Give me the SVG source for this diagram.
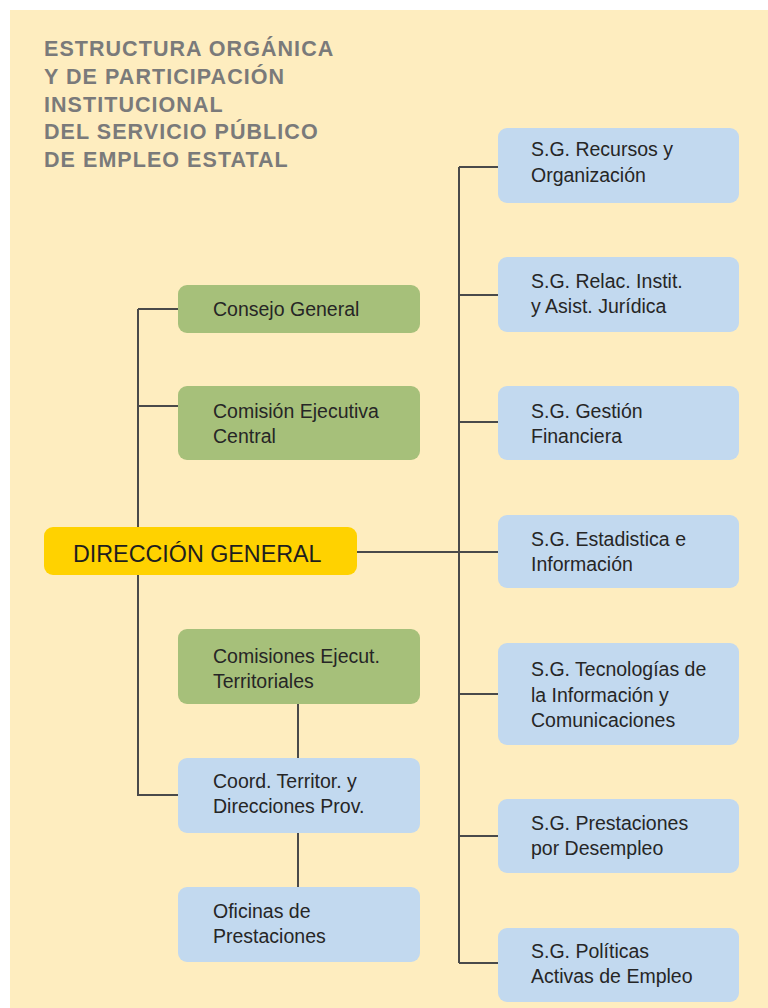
<svg xmlns="http://www.w3.org/2000/svg" width="768" height="1008" viewBox="0 0 768 1008">
<style>
.bg{fill:#FEEDBF}
.title{font-family:"Liberation Sans",Arial,sans-serif;font-weight:bold;font-size:21.5px;fill:#7A7A7A;letter-spacing:1.05px}
.lbl{font-family:"Liberation Sans",Arial,sans-serif;font-size:19.5px;fill:#262626}
.dg{font-family:"Liberation Sans",Arial,sans-serif;font-size:23.3px;fill:#1E1E1E}
.green{fill:#A6C07A}
.blue{fill:#C2D9EF}
.yellow{fill:#FFD200}
.conn{stroke:#4A4A4A;stroke-width:2;fill:none}
</style>
<rect x="0" y="0" width="768" height="1008" fill="#FFFFFF"/>
<rect class="bg" x="10" y="10" width="758" height="998"/>
<g id="title" class="title">
<text x="44" y="56">ESTRUCTURA ORGÁNICA</text>
<text x="44" y="84">Y DE PARTICIPACIÓN</text>
<text x="44" y="112">INSTITUCIONAL</text>
<text x="44" y="139">DEL SERVICIO PÚBLICO</text>
<text x="44" y="167">DE EMPLEO ESTATAL</text>
</g>
<g id="connectors" class="conn">
<path d="M138 309 V795 H178"/>
<path d="M138 309 H178"/>
<path d="M138 406 H178"/>
<path d="M298 704 V758"/>
<path d="M298 833 V887"/>
<path d="M357 552 H498"/>
<path d="M459 167 V963"/>
<path d="M459 167 H498"/>
<path d="M459 295 H498"/>
<path d="M459 422 H498"/>
<path d="M459 694 H498"/>
<path d="M459 836 H498"/>
<path d="M459 963 H498"/>
</g>
<g id="direccion-general">
<rect class="yellow" x="44" y="527" width="313" height="48" rx="9"/>
<text class="dg" x="73" y="562">DIRECCIÓN GENERAL</text>
</g>
<g id="consejo-general">
<rect class="green" x="178" y="285" width="242" height="48" rx="9"/>
<text class="lbl" x="213" y="316">Consejo General</text>
</g>
<g id="comision-ejecutiva-central">
<rect class="green" x="178" y="386" width="242" height="74" rx="9"/>
<text class="lbl" x="213" y="418">Comisión Ejecutiva</text>
<text class="lbl" x="213" y="443">Central</text>
</g>
<g id="comisiones-ejecut-territoriales">
<rect class="green" x="178" y="629" width="242" height="75" rx="9"/>
<text class="lbl" x="213" y="663">Comisiones Ejecut.</text>
<text class="lbl" x="213" y="688">Territoriales</text>
</g>
<g id="coord-territor">
<rect class="blue" x="178" y="758" width="242" height="75" rx="9"/>
<text class="lbl" x="213" y="788">Coord. Territor. y</text>
<text class="lbl" x="213" y="813">Direcciones Prov.</text>
</g>
<g id="oficinas-prestaciones">
<rect class="blue" x="178" y="887" width="242" height="75" rx="9"/>
<text class="lbl" x="213" y="918">Oficinas de</text>
<text class="lbl" x="213" y="943">Prestaciones</text>
</g>
<g id="sg-recursos">
<rect class="blue" x="498" y="128" width="241" height="75" rx="9"/>
<text class="lbl" x="531" y="156">S.G. Recursos y</text>
<text class="lbl" x="531" y="182">Organización</text>
</g>
<g id="sg-relac">
<rect class="blue" x="498" y="257" width="241" height="75" rx="9"/>
<text class="lbl" x="531" y="288">S.G. Relac. Instit.</text>
<text class="lbl" x="531" y="313">y Asist. Jurídica</text>
</g>
<g id="sg-gestion">
<rect class="blue" x="498" y="386" width="241" height="74" rx="9"/>
<text class="lbl" x="531" y="418">S.G. Gestión</text>
<text class="lbl" x="531" y="443">Financiera</text>
</g>
<g id="sg-estadistica">
<rect class="blue" x="498" y="515" width="241" height="73" rx="9"/>
<text class="lbl" x="531" y="546">S.G. Estadistica e</text>
<text class="lbl" x="531" y="571">Información</text>
</g>
<g id="sg-tecnologias">
<rect class="blue" x="498" y="643" width="241" height="102" rx="9"/>
<text class="lbl" x="531" y="676">S.G. Tecnologías de</text>
<text class="lbl" x="531" y="702">la Información y</text>
<text class="lbl" x="531" y="727">Comunicaciones</text>
</g>
<g id="sg-prestaciones">
<rect class="blue" x="498" y="799" width="241" height="74" rx="9"/>
<text class="lbl" x="531" y="830">S.G. Prestaciones</text>
<text class="lbl" x="531" y="855">por Desempleo</text>
</g>
<g id="sg-politicas">
<rect class="blue" x="498" y="928" width="241" height="74" rx="9"/>
<text class="lbl" x="531" y="958">S.G. Políticas</text>
<text class="lbl" x="531" y="983">Activas de Empleo</text>
</g>
</svg>
